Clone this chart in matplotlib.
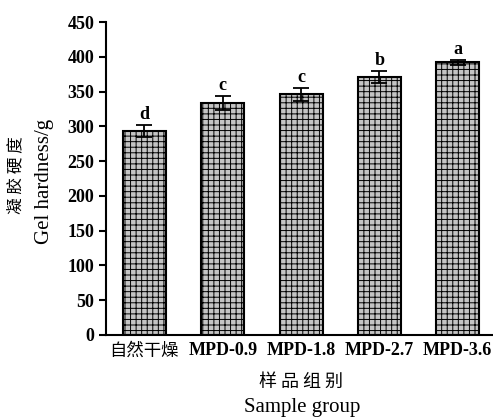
import matplotlib
matplotlib.use("Agg")
import matplotlib.pyplot as plt

groups = ["自然干燥", "MPD-0.9", "MPD-1.8", "MPD-2.7", "MPD-3.6"]
hardness = [293, 334, 346, 371, 392]
errors = [9, 10, 9, 9, 4]
letters = ["d", "c", "c", "b", "a"]

serif = ["Liberation Serif", "Noto Sans CJK SC"]
cjk = ["Noto Sans CJK SC", "Liberation Serif"]
plt.rcParams["font.family"] = serif
plt.rcParams["hatch.linewidth"] = 0.7
plt.rcParams["hatch.color"] = "#3a3a3a"

fig = plt.figure(figsize=(4.93, 4.17), dpi=100)
ax = fig.add_axes([0.215, 0.197, 0.785, 0.75])

x = range(len(groups))
ax.bar(x, hardness, width=0.55, color="#c4c4c4", edgecolor="black",
       linewidth=1.5, hatch="+++", zorder=2)
ax.errorbar(x, hardness, yerr=errors, fmt="none", ecolor="black",
            elinewidth=1.3, capsize=6, capthick=1.3, zorder=3)
for xi, h, e, s in zip(x, hardness, errors, letters):
    ax.text(xi, h + e + 3, s, ha="center", va="bottom",
            fontsize=13, fontweight="bold")

ax.set_xlim(-0.49, 4.45)
ax.set_ylim(0, 450)
ax.set_yticks(range(0, 451, 50))
ax.set_xticks(list(x))
ax.set_xticklabels(groups, fontsize=13, fontweight="bold")
labels = ax.get_xticklabels()
labels[0].set_fontweight("normal")
labels[0].set_fontsize(12.5)
labels[0].set_family(cjk)
ax.tick_params(axis="x", length=0, pad=5)
ax.tick_params(axis="y", length=5, width=1.5, direction="out", labelsize=13)
for t in ax.get_yticklabels():
    t.set_fontweight("bold")
for side in ("top", "right"):
    ax.spines[side].set_visible(False)
for side in ("left", "bottom"):
    ax.spines[side].set_linewidth(1.5)

fig.text(0.032, 0.58, "凝 胶 硬 度", rotation=90, ha="center", va="center",
         fontsize=12, family=cjk)
fig.text(0.091, 0.566, "Gel hardness/g", rotation=90, ha="center", va="center",
         fontsize=15)
fig.text(0.611, 0.084, "样 品 组 别", ha="center", va="center",
         fontsize=13, family=cjk)
fig.text(0.612, 0.022, "Sample group", ha="center", va="center", fontsize=15)

fig.savefig("out.png", dpi=100)
